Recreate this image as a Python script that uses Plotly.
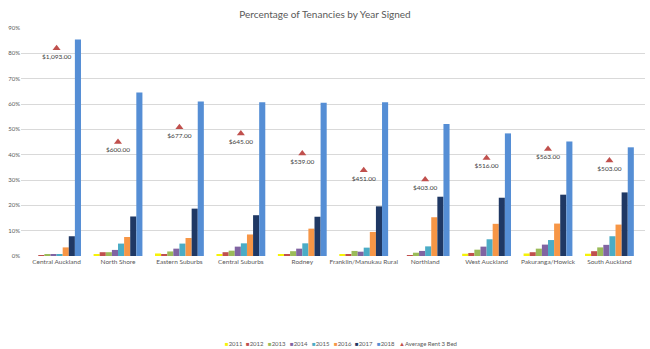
import plotly.graph_objects as go

# Regions (x categories)
regions = ["Central Auckland", "North Shore", "Eastern Suburbs", "Central Suburbs",
           "Rodney", "Franklin/Manukau Rural", "Northland", "West Auckland",
           "Pakuranga/Howick", "South Auckland"]

years = ["2011", "2012", "2013", "2014", "2015", "2016", "2017", "2018"]

# Share of tenancies signed per year (fractions)
y2011 = [0.000, 0.005, 0.010, 0.005, 0.005, 0.005, 0.000, 0.009, 0.010, 0.009]
y2012 = [0.002, 0.015, 0.005, 0.015, 0.008, 0.008, 0.003, 0.012, 0.015, 0.019]
y2013 = [0.005, 0.015, 0.018, 0.021, 0.019, 0.020, 0.013, 0.025, 0.029, 0.034]
y2014 = [0.005, 0.024, 0.029, 0.037, 0.029, 0.017, 0.020, 0.037, 0.045, 0.044]
y2015 = [0.005, 0.049, 0.049, 0.050, 0.050, 0.033, 0.038, 0.066, 0.063, 0.078]
y2016 = [0.034, 0.075, 0.071, 0.085, 0.108, 0.095, 0.153, 0.127, 0.128, 0.124]
y2017 = [0.078, 0.156, 0.187, 0.161, 0.155, 0.196, 0.234, 0.230, 0.242, 0.251]
y2018 = [0.855, 0.645, 0.610, 0.607, 0.605, 0.607, 0.521, 0.484, 0.452, 0.429]

# Average weekly rent for a 3-bedroom dwelling
rent_name = "Average Rent 3 Bed"
avg_rent = [1093, 600, 677, 645, 539, 451, 403, 516, 563, 503]

year_series = [y2011, y2012, y2013, y2014, y2015, y2016, y2017, y2018]
year_colors = ["#F5F20A", "#C0504D", "#9BBB59", "#8064A2",
               "#4BACC6", "#F79646", "#1F3864", "#558ED5"]
rent_color = "#C0504D"

FONT = "Lato, sans-serif"
GREY = "#595959"

fig = go.Figure()

for name, vals, col in zip(years, year_series, year_colors):
    fig.add_trace(go.Bar(
        x=regions, y=vals, name=name, marker_color=col,
        marker_line_width=0,
    ))

fig.add_trace(go.Scatter(
    x=regions, y=avg_rent, name=rent_name, yaxis="y2",
    mode="markers+text",
    marker=dict(symbol="triangle-up", size=7, color=rent_color),
    text=[f"${v:,.2f}" for v in avg_rent],
    textposition="bottom center",
    textfont=dict(size=6.5, color="#404040", family=FONT),
))

# Compact legend row along the bottom edge
legend_items = [("■", c, y) for y, c in zip(years, year_colors)]
legend_items.append(("▲", rent_color, rent_name))
x0, step = 210 / 650, 22.7 / 650
for i, (sym, col, label) in enumerate(legend_items):
    fig.add_annotation(
        xref="paper", yref="paper", x=x0 + i * step, y=-(343 - 256) / 228,
        xanchor="left", yanchor="middle", showarrow=False,
        text=f"<span style='color:{col}'>{sym}</span>{label}",
        font=dict(size=6, color=GREY, family=FONT),
    )

fig.update_layout(
    width=650, height=349,
    margin=dict(l=21, r=5, t=28, b=93, autoexpand=False),
    paper_bgcolor="white", plot_bgcolor="white",
    font=dict(family=FONT, color=GREY),
    title=dict(text="Percentage of Tenancies by Year Signed",
               x=0.5, xanchor="center", y=1 - 14 / 349, yanchor="middle",
               font=dict(size=10, color=GREY)),
    barmode="group", bargap=0.205, bargroupgap=0,
    xaxis=dict(showgrid=False, showline=False, ticks="",
               tickfont=dict(size=6.5, color=GREY), tickangle=0),
    yaxis=dict(range=[0, 0.9], dtick=0.1, tickformat=".0%",
               showgrid=True, gridcolor="#D9D9D9", gridwidth=1,
               zeroline=False, showline=False, ticks="",
               tickfont=dict(size=6, color=GREY)),
    yaxis2=dict(range=[0, 1200], overlaying="y", side="right",
                visible=False, showgrid=False),
    showlegend=False,
)

fig.write_html("out.html")
